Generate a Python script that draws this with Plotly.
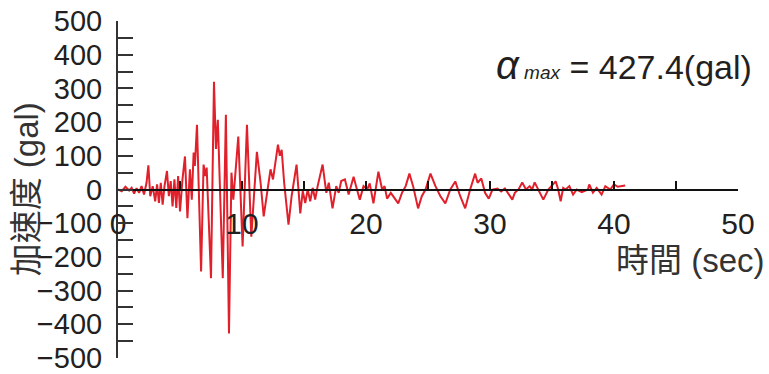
import plotly.graph_objects as go

# Acceleration record: time (sec) and acceleration (gal)
time_sec = [
    0.0, 0.3, 0.6, 0.9, 1.1, 1.3, 1.5, 1.7, 1.9, 2.1, 2.3, 2.45, 2.6, 2.8, 3.0,
    3.15, 3.3, 3.45, 3.6, 3.75, 3.95, 4.1, 4.25, 4.4, 4.55, 4.7, 4.85, 5.0, 5.2,
    5.4, 5.6, 5.8, 5.95, 6.1, 6.2, 6.37, 6.5, 6.7, 6.9, 7.05, 7.15, 7.5, 7.74,
    7.9, 8.05, 8.2, 8.45, 8.7, 8.95, 9.15, 9.3, 9.7, 10.05, 10.4, 10.75, 11.2,
    11.5, 11.75, 12.1, 12.3, 12.5, 12.9, 13.05, 13.2, 13.4, 13.75, 14.0, 14.4,
    14.7, 14.9, 15.1, 15.3, 15.5, 15.7, 15.9, 16.1, 16.5, 16.8, 17.0, 17.3, 17.6,
    17.8, 18.0, 18.3, 18.6, 19.0, 19.2, 19.5, 19.8, 20.1, 20.3, 20.6, 21.0, 21.3,
    21.5, 21.7, 22.0, 22.6, 22.9, 23.2, 23.5, 23.8, 24.2, 24.5, 24.8, 25.2, 25.6,
    26.0, 26.4, 26.8, 27.2, 27.6, 28.0, 28.4, 28.8, 29.0, 29.3, 29.6, 29.9, 30.2,
    30.6, 30.9, 31.2, 31.5, 31.8, 32.0, 32.3, 32.6, 32.9, 33.2, 33.4, 33.6, 33.9,
    34.3, 34.7, 35.3, 35.5, 35.7, 35.9, 36.1, 36.4, 36.7, 37.0, 37.4, 37.9, 38.0,
    38.3, 38.6, 39.0, 39.3, 39.7, 40.0, 40.3, 40.9,
]
accel_gal = [
    0, -5, 8, -3, 5, -12, 4, -10, 10, -15, 20, 72, -20, 10, -35,
    15, -40, 20, -45, 10, 55, -20, 25, -50, 30, -55, 40, -65, 30,
    98, -85, 60, -30, 110, 70, 192, 20, -243, 74, 40, 65, -263, 320,
    120, 207, 40, -263, 222, -427.4, 50, -30, 157, -169, 192, -140, 112,
    20, -80, 10, 60, 30, 133, 100, 118, 20, -104, -20, 74,
    -71, -5, -40, 0, -35, 5, -30, 10, 74, -10, 20, -56, 10,
    -10, 25, 30, -15, 38, 10, -30, 10, 0, 18, -41, 53, 0,
    10, -27, -10, -41, -10, 10, 47, 10, -56, -20, 0, 47, 10,
    -20, -41, 0, 24, -20, -56, 0, 47, 20, 33, -10, -27, 0,
    3, -6, 3, -15, -30, -10, 0, 21, 0, 10, 0, 21, 0,
    -30, 0, 24, 0, -35, 5, 0, 10, -15, 0, -8, 0, 15,
    -9, 5, -15, 10, 0, 15, 8, 12,
]

x_tick_vals = [0, 10, 20, 30, 40, 50]
y_tick_vals = [500, 400, 300, 200, 100, 0, -100, -200, -300, -400, -500]
peak_label = "427.4(gal)"

FONT = "Liberation Sans, Arial, Noto Sans CJK TC, sans-serif"
INK = "#231f20"

fig = go.Figure()
fig.add_trace(go.Scatter(
    x=time_sec, y=accel_gal, mode="lines",
    line=dict(color="#e0202b", width=2),
    hoverinfo="skip", showlegend=False,
))

fig.update_layout(
    width=769, height=374,
    margin=dict(l=118, r=31, t=21, b=16),
    paper_bgcolor="white", plot_bgcolor="white",
    font=dict(family=FONT, color=INK),
)

fig.update_xaxes(
    range=[0, 50], anchor="free", position=0.5, automargin=False,
    tickmode="array", tickvals=x_tick_vals,
    ticks="inside", ticklen=8, tickwidth=1.5, tickcolor="#111",
    minor=dict(dtick=5, ticks="inside", ticklen=8, tickwidth=1.5, tickcolor="#111"),
    showline=True, linecolor="#111", linewidth=1.5,
    showgrid=False, zeroline=False,
    tickfont=dict(size=30, color=INK), ticklabelstandoff=8,
)

fig.update_yaxes(
    range=[-500, 500], automargin=False,
    tickmode="array", tickvals=y_tick_vals,
    ticks="inside", ticklen=15, tickwidth=2, tickcolor="#333",
    minor=dict(dtick=50, ticks="inside", ticklen=15, tickwidth=2, tickcolor="#333"),
    showline=True, linecolor="#333", linewidth=2,
    showgrid=False, zeroline=False, ticklabeloverflow="allow",
    tickfont=dict(size=29, color=INK), ticklabelstandoff=8,
)

# Axis titles
fig.add_annotation(
    text="加速度 (gal)", xref="paper", yref="paper",
    x=-0.147, y=0.5, textangle=-90, showarrow=False,
    font=dict(size=33, color="#333", family=FONT),
    xanchor="center", yanchor="middle",
)
fig.add_annotation(
    text="時間 (sec)", xref="paper", yref="paper",
    x=1.046, y=0.29, showarrow=False,
    font=dict(size=33, color="#333", family=FONT),
    xanchor="right", yanchor="middle",
)

# Peak value label
fig.add_annotation(
    text=("<i><span style='font-size:40px'>α</span></i>"
          "<i><span style='font-size:19px'> max</span></i> = " + peak_label),
    xref="paper", yref="paper", x=1.026, y=0.87,
    showarrow=False, xanchor="right", yanchor="middle",
    font=dict(size=34, color=INK, family=FONT),
)

fig.write_html("out.html")
